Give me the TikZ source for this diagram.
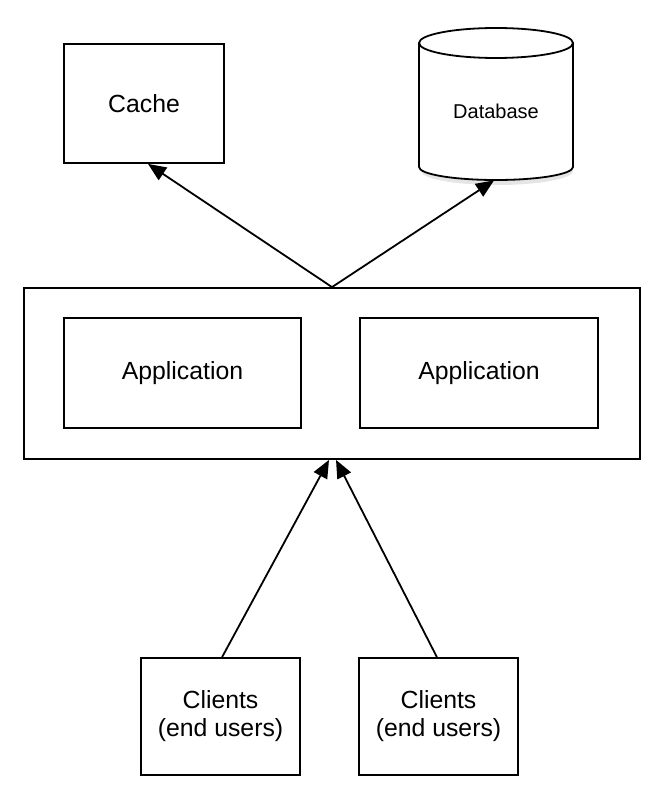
\documentclass[tikz,border=0pt]{standalone}
\usepackage{fontspec}
\setmainfont{Liberation Sans}
\usetikzlibrary{arrows.meta}

\tikzset{
	box/.style={draw, line width=0.9pt, fill=white, inner sep=0pt, align=center, font=\fontsize{12.4}{14}\selectfont},
	link/.style={line width=0.9pt, -{Triangle[length=9pt, width=7.5pt]}}
}

\begin{document}
\begin{tikzpicture}[x=0.5pt, y=-0.5pt]
		\useasboundingbox (0, 0) rectangle (666, 802);

		% top row
		\node[box, minimum width=80pt, minimum height=59.5pt] (cache) at(144, 103.5){Cache};

		\fill[black!20, opacity=0.5] (421, 171) arc[start angle=180, end angle=360, x radius=38pt, y radius=7pt] -- cycle;
		\draw[line width=0.9pt, fill=white] (419, 43) -- (419, 167) arc[start angle=180, end angle=360, x radius=38.5pt, y radius=6.5pt] -- (573, 43);
		\draw[line width=0.9pt, fill=white] (496, 43) ellipse[x radius=38.5pt, y radius=7.5pt];
		\node[inner sep=0pt, minimum width=77pt, minimum height=68.5pt, font=\fontsize{10}{12}\selectfont] (db) at(496, 111.5){Database};

		% middle
		\node[box, minimum width=308pt, minimum height=85.5pt] (outer) at(332, 373.5){};
			\node[box, minimum width=118.5pt, minimum height=55pt] (app1) at(182.5, 373){Application};
			\node[box, minimum width=119pt, minimum height=55pt] (app2) at(479, 373){Application};

		% bottom row
		\node[box, minimum width=79.5pt, minimum height=58.5pt] (cl1) at(220.5, 716.5){Clients\\(end users)};
		\node[box, minimum width=79.5pt, minimum height=58.5pt] (cl2) at(438.5, 716.5){Clients\\(end users)};

		\draw[link] (outer.north) to ([xshift=2pt]cache.south);
		\draw[link] (outer.north) to ([xshift=-1pt]db.south);
		\draw[link] ([xshift=0.8pt]cl1.north) to ([xshift=-1.5pt]outer.south);
		\draw[link] ([xshift=-0.8pt]cl2.north) to ([xshift=2pt]outer.south);
	\end{tikzpicture}
\end{document}
